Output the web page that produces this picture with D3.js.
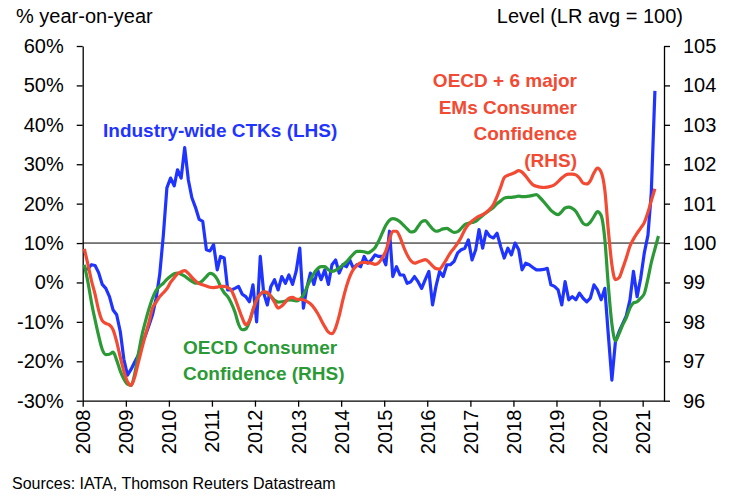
<!DOCTYPE html>
<html>
<head>
<meta charset="utf-8">
<script src="https://cdnjs.cloudflare.com/ajax/libs/d3/7.8.5/d3.min.js"></script>
<style>
body { margin: 0; background: #fff; }
text { font-family: "Liberation Sans", Arial, sans-serif; }
</style>
</head>
<body>
<svg id="Plots" width="734" height="498"></svg>
<script>
// monthly values from Jan 2008
// CTKs: % year-on-year (LHS)
var ctk = [3.2, 3.5, 4.5, 4.3, 2.5, -0.5, -1.5, -3.6, -7, -8.2,
    -12.5, -19.5, -23.5, -22, -20.3, -18.5, -15.7, -13.5, -11, -8.2,
    -4, 2, 12, 24, 26.5, 24.5, 28.6, 26.5, 34.2, 26,
    21.5, 19, 16, 15.5, 8.3, 8, 9.6, 3.2, 6.6, 6.2,
    -1.9, -1.9, -1.5, -1, -3, -3.6, -4.9, -0.6, -10, 6.6,
    -2.7, -5.7, -1, 0.7, -1.9, 1.5, -0.2, 1.9, -0.5, 2.8,
    8.7, -6.5, -1.5, 2.4, -0.5, 3.2, 0.7, 3.2, -0.5, 4.5,
    5.7, 2.4, 4.5, 4, 5.7, 3.6, 4.5, 4, 6.6, 4.9,
    5.7, 7, 6.6, 6.6, 4.5, 13, 1.5, 4, 1.9, 1.9,
    -0.2, 0.2, 1.5, 0.2, -1.5, 0.7, 2.8, -5.7, -1, 2.8,
    1.5, 4.5, 4.5, 5.3, 7.5, 8.3, 8.7, 10.8, 5.7, 8.3,
    13.4, 8.7, 13, 11.7, 11.3, 12.5, 9.1, 6.2, 8.7, 7,
    10, 8.3, 3.2, 4.9, 4.5, 3.8, 3.2, 3.2, 3.3, 3.6,
    -0.6, -1, -1.9, -5.7, 0.2, -4.4, -3.6, -4.4, -2.7, -4,
    -4.9, -4, -0.6, -1.9, -4.4, -1.5, -13, -24.8, -15, -12.5,
    -10.5, -8.5, -4.5, 2.8, -3.6, 1, 7.5, 12, 22.7, 48.6];
// OECD + 6 major EMs consumer confidence, level (RHS)
var oecd6 = [99.85, 99.45, 99.05, 98.7, 98.3, 98.03, 97.96, 97.92, 97.8, 97.5,
    97.1, 96.75, 96.48, 96.39, 96.58, 96.95, 97.3, 97.66, 97.98, 98.35,
    98.5, 98.64, 98.74, 98.84, 99.0, 99.12, 99.22, 99.27, 99.3, 99.23,
    99.13, 99.04, 98.97, 98.94, 98.91, 98.88, 98.87, 98.88, 98.9, 98.9,
    98.87, 98.8, 98.6, 98.35, 98.1, 97.93, 98.03, 98.3, 98.56, 98.7,
    98.76, 98.75, 98.64, 98.5, 98.35, 98.4, 98.5, 98.6, 98.62, 98.58,
    98.57, 98.56, 98.52, 98.46, 98.36, 98.22, 98.05, 97.88, 97.74, 97.7,
    97.85, 98.15, 98.55, 98.9, 99.15, 99.33, 99.43, 99.5, 99.51, 99.5,
    99.49, 99.46, 99.5, 99.62, 99.8, 100.1, 100.3, 100.3, 100.15, 99.9,
    99.7, 99.55, 99.49, 99.52, 99.55, 99.58, 99.52, 99.42, 99.35, 99.34,
    99.45, 99.6, 99.75, 99.87, 100.0, 100.15, 100.34, 100.47, 100.56, 100.63,
    100.68, 100.72, 100.78, 100.86, 100.98, 101.18, 101.42, 101.66, 101.72, 101.75,
    101.79, 101.84, 101.8, 101.7, 101.58, 101.48, 101.44, 101.42, 101.41, 101.42,
    101.44, 101.48, 101.56, 101.65, 101.72, 101.75, 101.75, 101.73, 101.65, 101.52,
    101.5, 101.58, 101.78, 101.9, 101.8, 101.35, 100.35, 99.45, 99.07, 99.12,
    99.35, 99.62, 99.92, 100.1, 100.25, 100.38, 100.52, 100.78, 101.07, 101.38];
// OECD consumer confidence, level (RHS)
var oecd = [99.45, 99.0, 98.5, 98.05, 97.65, 97.3, 97.17, 97.18, 97.23, 97.03,
    96.75, 96.55, 96.42, 96.39, 96.65, 97.15, 97.63, 98.0, 98.32, 98.6,
    98.8, 98.9, 98.98, 99.08, 99.16, 99.22, 99.24, 99.21, 99.16, 99.09,
    99.03, 98.98, 98.99, 99.05, 99.15, 99.23, 99.2, 99.08, 98.9, 98.74,
    98.64, 98.47, 98.25, 97.94, 97.8, 97.82, 98.0, 98.3, 98.56, 98.7,
    98.77, 98.72, 98.65, 98.55, 98.5, 98.51, 98.53, 98.56, 98.55, 98.53,
    98.57, 98.68, 98.87, 99.07, 99.23, 99.35, 99.4, 99.4, 99.32, 99.28,
    99.31, 99.37, 99.44, 99.52, 99.62, 99.72, 99.79, 99.79, 99.78, 99.75,
    99.8, 99.88, 100.05, 100.25, 100.45, 100.58, 100.62, 100.6, 100.54, 100.45,
    100.36, 100.28, 100.3, 100.42, 100.54, 100.57, 100.47, 100.36, 100.3, 100.32,
    100.36, 100.37, 100.32, 100.27, 100.29, 100.37, 100.47, 100.5, 100.52, 100.55,
    100.62, 100.7, 100.77, 100.84, 100.9, 101.0, 101.07, 101.14, 101.16, 101.16,
    101.17, 101.19, 101.18, 101.18, 101.19, 101.21, 101.23, 101.15, 101.05, 100.94,
    100.83, 100.76, 100.72, 100.8, 100.89, 100.91, 100.88, 100.8, 100.65, 100.5,
    100.46, 100.53, 100.67, 100.8, 100.7, 100.1, 98.95, 97.95, 97.52, 97.7,
    97.92, 98.1, 98.35, 98.48, 98.51, 98.6, 98.72, 99.1, 99.5, 99.85, 100.18];

function build_rows(){
    var rows = [];
    for (var i = 0; i < oecd.length; ++i) {
        rows.push({
            Date: new Date(2008, i, 15),
            CTK: i < ctk.length ? ctk[i] : null,
            OECD6: i < oecd6.length ? oecd6[i] : null,
            OECD: oecd[i]
        });
    }
    return rows;
}

var svg = d3.select("#Plots"),
    margin = {top: 46, right: 70, bottom: 97.3, left: 82.7},
    width = +svg.attr("width") - margin.left - margin.right,
    height = +svg.attr("height") - margin.top - margin.bottom,
    group = svg.append("g").attr("transform", "translate(" + margin.left + "," + margin.top + ")");

var xscale = d3.scaleTime()
    .domain([new Date(2008, 0, 1), new Date(2021, 6, 1)])
    .range([0, width]);
var yleft = d3.scaleLinear().domain([-30, 60]).range([height, 0]);
var yright = d3.scaleLinear().domain([96, 105]).range([height, 0]);

var colors = {CTK: "#1f35ff", OECD6: "#f24a33", OECD: "#2b9a36"};

function setup_axis(){
    var xAxis = d3.axisBottom(xscale)
        .ticks(d3.timeYear.every(1))
        .tickFormat(d3.timeFormat("%Y"))
        .tickSize(6)
        .tickSizeOuter(0);
    var gx = group.append("g")
        .attr("class", "x_axis")
        .attr("transform", "translate(0," + height + ")")
        .call(xAxis);
    gx.selectAll("text")
        .attr("transform", "rotate(-90)")
        .attr("text-anchor", "end")
        .attr("x", -9)
        .attr("y", 0)
        .attr("dy", "0.35em");

    var gl = group.append("g")
        .attr("class", "y_axis")
        .call(d3.axisLeft(yleft)
            .tickValues(d3.range(-30, 61, 10))
            .tickFormat(function(d) { return d + "%"; })
            .tickSize(6).tickPadding(13).tickSizeOuter(0));

    var gr = group.append("g")
        .attr("class", "y_axis_r")
        .attr("transform", "translate(" + width + ",0)")
        .call(d3.axisRight(yright)
            .tickValues(d3.range(96, 106, 1))
            .tickSize(6).tickPadding(13).tickSizeOuter(0));

    group.selectAll(".x_axis, .y_axis, .y_axis_r")
        .attr("font-size", 20)
        .attr("font-family", "Liberation Sans, Arial, sans-serif");
    group.selectAll(".domain, .tick line")
        .attr("stroke", "#000")
        .attr("stroke-width", 1.3);
    group.selectAll(".tick text").attr("fill", "#000");
}

function draw_lines(data){
    group.append("line")
        .attr("x1", 0).attr("x2", width)
        .attr("y1", yleft(10)).attr("y2", yleft(10))
        .attr("stroke", "#000")
        .attr("stroke-width", 1);

    var ctkLine = d3.line()
        .defined(function(d) { return d.CTK != null; })
        .x(function(d) { return xscale(d.Date); })
        .y(function(d) { return yleft(d.CTK); });
    var confLine = function(key) {
        return d3.line()
            .defined(function(d) { return d[key] != null; })
            .curve(d3.curveMonotoneX)
            .x(function(d) { return xscale(d.Date); })
            .y(function(d) { return yright(d[key]); });
    };

    group.append("path").datum(data)
        .attr("fill", "none").attr("stroke", colors.CTK)
        .attr("stroke-width", 3.2).attr("stroke-linejoin", "round")
        .attr("d", ctkLine);
    group.append("path").datum(data)
        .attr("fill", "none").attr("stroke", colors.OECD)
        .attr("stroke-width", 3.2).attr("stroke-linejoin", "round")
        .attr("d", confLine("OECD"));
    group.append("path").datum(data)
        .attr("fill", "none").attr("stroke", colors.OECD6)
        .attr("stroke-width", 3.2).attr("stroke-linejoin", "round")
        .attr("d", confLine("OECD6"));
}

function setup_labels(){
    svg.append("text").attr("x", 16).attr("y", 23)
        .attr("font-size", 20).text("% year-on-year");
    svg.append("text").attr("x", 683).attr("y", 23)
        .attr("font-size", 20).attr("text-anchor", "end")
        .text("Level (LR avg = 100)");
    svg.append("text").attr("x", 12).attr("y", 489)
        .attr("font-size", 16).text("Sources: IATA, Thomson Reuters Datastream");

    var notes = [
        {x: 103, y: [136.5], anchor: "start", color: colors.CTK, lines: ["Industry-wide CTKs (LHS)"]},
        {x: 577, y: [87, 113.5, 140, 166.5], anchor: "end", color: colors.OECD6,
            lines: ["OECD + 6 major", "EMs Consumer", "Confidence", "(RHS)"]},
        {x: 183, y: [353.5, 380], anchor: "start", color: colors.OECD,
            lines: ["OECD Consumer", "Confidence (RHS)"]}
    ];
    notes.forEach(function(n) {
        n.lines.forEach(function(l, i) {
            svg.append("text")
                .attr("x", n.x).attr("y", n.y[i])
                .attr("text-anchor", n.anchor)
                .attr("font-size", 19).attr("font-weight", "bold")
                .attr("fill", n.color)
                .text(l);
        });
    });
}

var rows = build_rows();
setup_axis();
draw_lines(rows);
setup_labels();
</script>
</body>
</html>
